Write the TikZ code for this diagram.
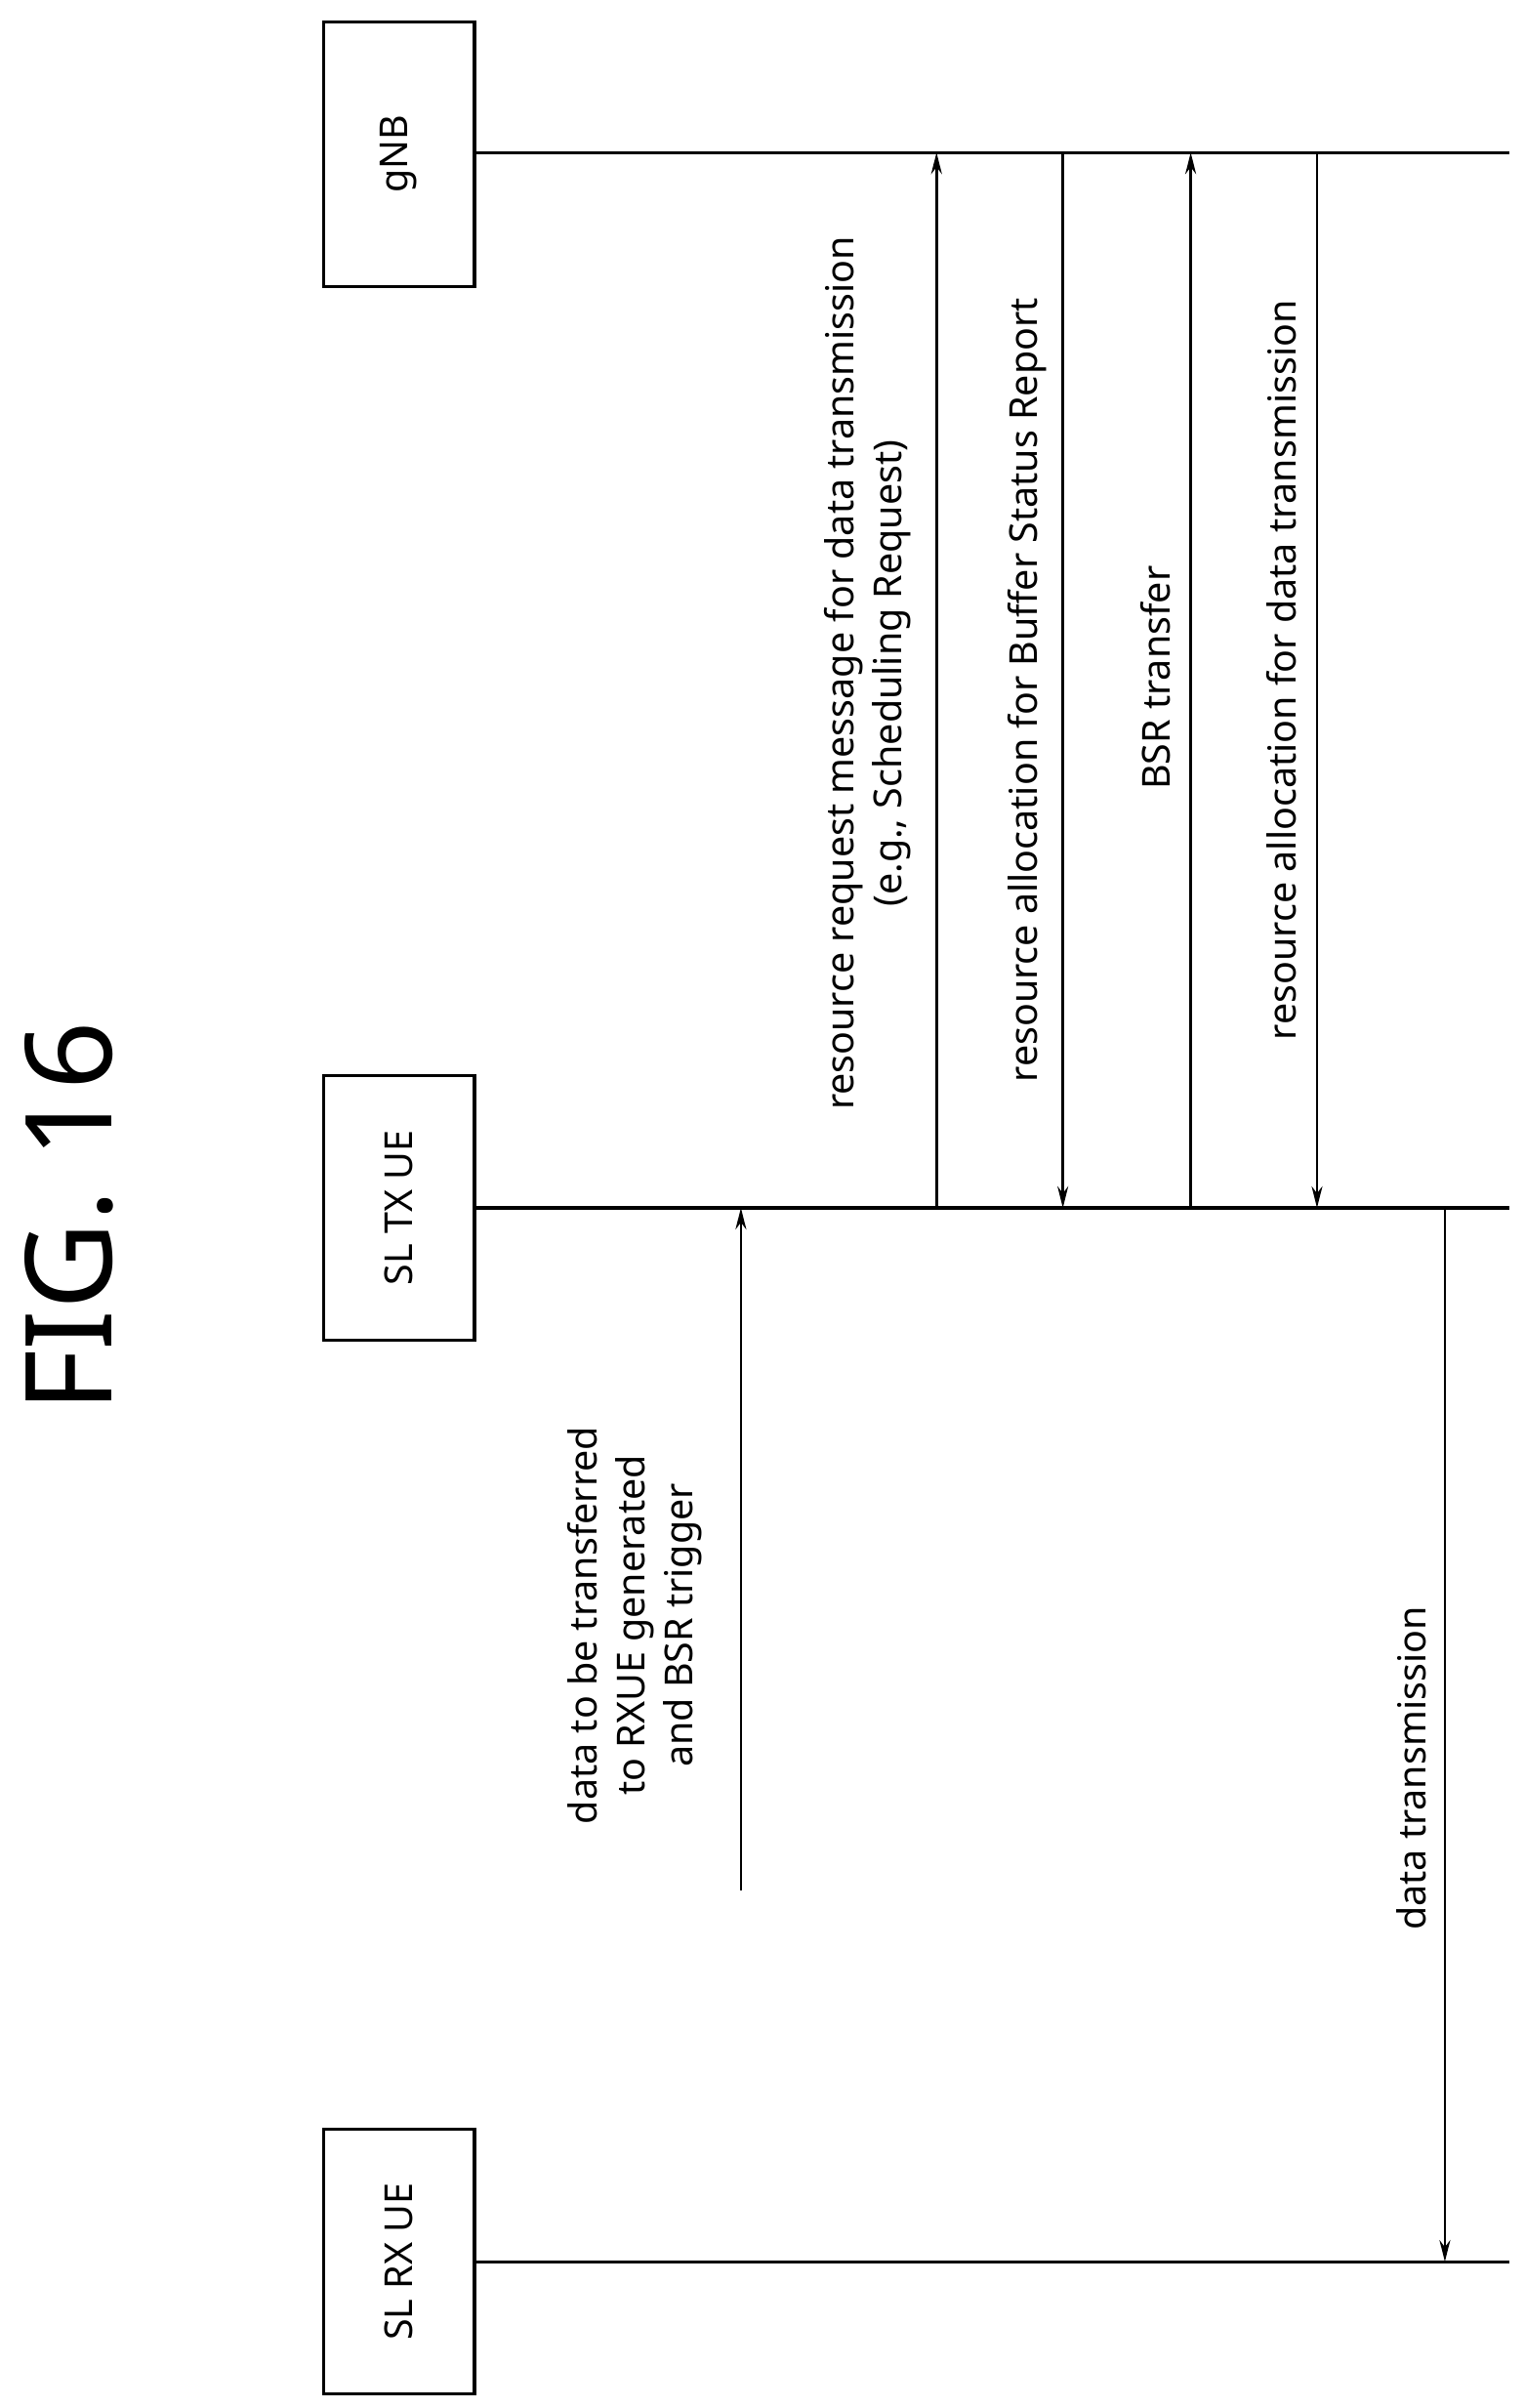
\documentclass[tikz,border=0pt]{standalone}
\usepackage{fontspec}
\setmainfont{Noto Sans}
\usetikzlibrary{arrows.meta}
\begin{document}
\begin{tikzpicture}[x=1pt,y=-1pt,
  ent/.style={draw,line width=2pt,minimum width=98pt,minimum height=172pt,inner sep=0pt},
  life/.style={line width=2pt},
  msg/.style={line width=1.6pt,-{Stealth[length=14pt,width=7pt]}},
  lbl/.style={rotate=90,font=\fontsize{25}{31}\selectfont,align=center,inner sep=0pt}]
\useasboundingbox (0,0) rectangle (990,1563);
\node[rotate=90,font=\fontsize{78}{90}\selectfont] (title) at (45,790) {FIG. 16};
\node[ent] (gnb) at (259,100) {};
\node[rotate=90,font=\fontsize{25}{30}\selectfont] at (gnb) {gNB};
\node[ent] (tx) at (259,784) {};
\node[rotate=90,font=\fontsize{25}{30}\selectfont] at (tx) {SL TX UE};
\node[ent] (rx) at (259,1468) {};
\node[rotate=90,font=\fontsize{25}{30}\selectfont] at (rx) {SL RX UE};
\coordinate (g0) at (308,99); \coordinate (g1) at (980,99);
\coordinate (t0) at (308,784); \coordinate (t1) at (980,784);
\coordinate (r0) at (308,1468); \coordinate (r1) at (980,1468);
\draw[life] (g0) -- (g1); \draw[life] (t0) -- (t1); \draw[life] (r0) -- (r1);
\coordinate (a1s) at (481,1227); \coordinate (a1e) at (481,784);
\draw[msg] (a1s) -- (a1e);
\node[lbl] (l1) at (412,1055) {data to be transferred\\to RXUE generated\\and BSR trigger};
\coordinate (a2s) at (608,784); \coordinate (a2e) at (608,99);
\draw[msg] (a2s) -- (a2e);
\node[lbl] (l2) at (563,437) {resource request message for data transmission\\(e.g., Scheduling Request)};
\coordinate (a3s) at (690,99); \coordinate (a3e) at (690,784);
\draw[msg] (a3s) -- (a3e);
\node[lbl] (l3) at (667,448) {resource allocation for Buffer Status Report};
\coordinate (a4s) at (773,784); \coordinate (a4e) at (773,99);
\draw[msg] (a4s) -- (a4e);
\node[lbl] (l4) at (750,440) {BSR transfer};
\coordinate (a5s) at (855,99); \coordinate (a5e) at (855,784);
\draw[msg] (a5s) -- (a5e);
\node[lbl] (l5) at (832,435) {resource allocation for data transmission};
\coordinate (a6s) at (938,784); \coordinate (a6e) at (938,1468);
\draw[msg] (a6s) -- (a6e);
\node[lbl] (l6) at (916,1148) {data transmission};
\end{tikzpicture}
\end{document}
